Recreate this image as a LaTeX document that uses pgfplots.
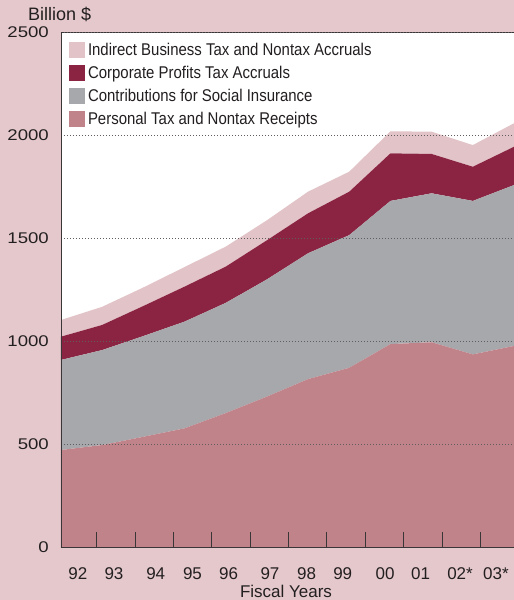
\documentclass[border=0pt]{standalone}
\usepackage{fontspec}
\setmainfont{Liberation Sans}
\newfontfamily\legfont[FakeStretch=0.88]{Liberation Sans}
\newfontfamily\ytfont[FakeStretch=1.2]{Liberation Sans}
\usepackage{pgfplots}
\pgfplotsset{compat=1.18}
\definecolor{bgpink}{HTML}{E4C8CC}
\definecolor{indirect}{HTML}{E2C4C8}
\definecolor{corp}{HTML}{8B2442}
\definecolor{social}{HTML}{A7A8AC}
\definecolor{personal}{HTML}{C1838A}
\definecolor{axisgray}{HTML}{3A3537}
\definecolor{textcol}{HTML}{231F20}

% billion $, fiscal years 92 ... 03*
\pgfplotstableread{
x personal social corp indirect
0  471 437 113  81
1  495 461 122  88
2  535 489 146  90
3  576 518 170  95
4  650 535 176  97
5  730 569 190  97
6  815 611 194 105
7  870 644 211  97
8  985 695 231 107
9  994 723 191 108
10 935 745 166 105
11 976 781 186 114
}\receipts

\begin{document}
\begin{tikzpicture}
\path[use as bounding box, fill=bgpink] (-61pt,-53pt) rectangle (453pt,547pt);
\begin{axis}[
  name=ax, at={(0,0)}, anchor=south west,
  scale only axis, width=453pt, height=515pt,
  xmin=0, xmax=11, ymin=0, ymax=2500,
  stack plots=y, axis on top,
  axis background/.style={fill=white},
  axis x line*=bottom, axis y line*=left,
  axis line style={draw=axisgray, line width=0.9pt},
  ytick={0,500,...,2500},
  ymajorgrids, grid style={draw=axisgray!80, line width=0.7pt, dash pattern=on 0.8pt off 2.2pt},
  ytick style={draw=none},
  /pgf/number format/assume math mode=true,
  /pgf/number format/1000 sep={},
  yticklabel style={font=\ytfont\fontsize{15.5}{16}\selectfont, text=textcol, anchor=east, inner sep=0pt, xshift=-12pt},
  xtick={0.867,1.797,2.727,3.660,4.590,5.520,6.452,7.390,8.322,9.252,10.182},
  xticklabels={{},{},{},{},{},{},{},{},{},{},{}},
  tick align=inside, xtick pos=bottom,
  major tick length=15pt,
  xtick style={draw=axisgray, line width=0.9pt},
  extra x ticks={0.408,1.287,2.300,3.193,4.068,5.075,5.966,6.841,7.868,8.730,9.689,10.563},
  extra x tick labels={92,93,94,95,96,97,98,99,00,01,02*,03*},
  extra x tick style={major tick length=0pt,
    xticklabel style={font=\fontsize{17}{17}\selectfont, text=textcol, anchor=base, inner sep=0pt, yshift=-32pt}},
  reverse legend,
  legend style={at={(0.0177,0.9806)}, anchor=north west, draw=none, fill=none,
    inner sep=0pt, outer sep=0pt, row sep=7pt, column sep=3pt,
    nodes={inner sep=0pt, text=textcol, font=\legfont\fontsize{17}{17}\selectfont}},
  legend cell align=left,
  legend image code/.code={\fill[#1] (0pt,-8pt) rectangle (16pt,8pt);},
]
\addplot[fill=personal, draw=none] table[x=x, y=personal] {\receipts} \closedcycle;
\addlegendentry{Personal Tax and Nontax Receipts}
\addplot[fill=social, draw=none] table[x=x, y=social] {\receipts} \closedcycle;
\addlegendentry{Contributions for Social Insurance}
\addplot[fill=corp, draw=none] table[x=x, y=corp] {\receipts} \closedcycle;
\addlegendentry{Corporate Profits Tax Accruals}
\addplot[fill=indirect, draw=none] table[x=x, y=indirect] {\receipts} \closedcycle;
\addlegendentry{Indirect Business Tax and Nontax Accruals}
\draw[axisgray, line width=0.9pt] (rel axis cs:0,1) -- (rel axis cs:1,1);
\end{axis}
\node[anchor=base west, inner sep=0pt, text=textcol, font=\fontsize{18}{18}\selectfont]
  at ([xshift=-33pt, yshift=11.3pt]ax.north west) {Billion \$};
\node[anchor=base, inner sep=0pt, text=textcol, font=\fontsize{17}{17}\selectfont]
  at ([xshift=225pt, yshift=-50.5pt]ax.south west) {Fiscal Years};
\end{tikzpicture}
\end{document}
